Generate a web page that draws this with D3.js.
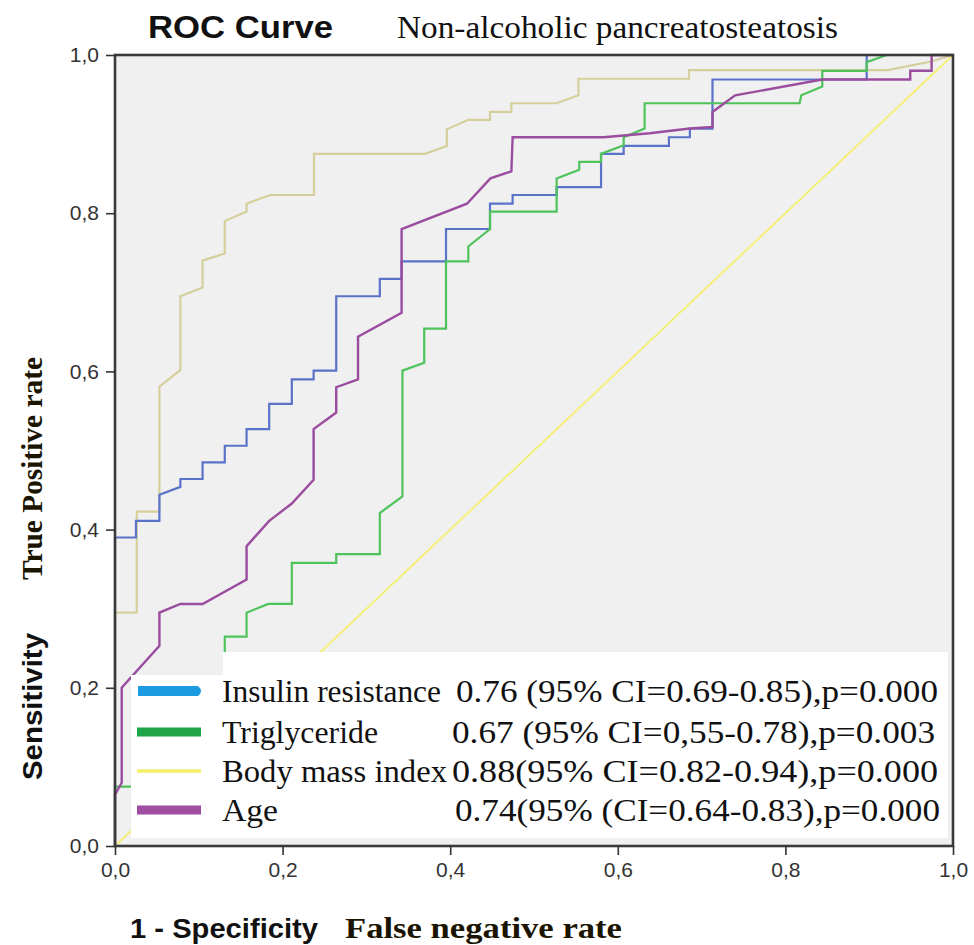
<!DOCTYPE html>
<html>
<head>
<meta charset="utf-8">
<script src="https://cdn.jsdelivr.net/npm/d3@7/dist/d3.min.js"></script>
<style>
  html, body { margin: 0; padding: 0; background: #fff; }
  svg { display: block; }
</style>
</head>
<body>
<svg id="chart" width="974" height="945"></svg>
<script>
// ---- Data (1 - specificity, sensitivity) ----
const tickValues = [0, 0.2, 0.4, 0.6, 0.8, 1.0];
const tickLabels = ["0,0", "0,2", "0,4", "0,6", "0,8", "1,0"];

const seriesNames = ["Insulin resistance", "Triglyceride", "Body mass index", "Age"];
const seriesStats = [
  "0.76 (95% CI=0.69-0.85),p=0.000",
  "0.67 (95% CI=0,55-0.78),p=0.003",
  "0.88(95% CI=0.82-0.94),p=0.000",
  "0.74(95% (CI=0.64-0.83),p=0.000"
];

const insulinResistance = [
  [0,0],[0,0.39],[0.025,0.39],[0.025,0.411],[0.053,0.411],[0.053,0.444],[0.078,0.454],
  [0.078,0.464],[0.1045,0.464],[0.1045,0.485],[0.131,0.485],[0.131,0.506],[0.157,0.506],
  [0.157,0.527],[0.184,0.527],[0.184,0.559],[0.211,0.559],[0.211,0.590],[0.237,0.590],
  [0.237,0.601],[0.264,0.601],[0.264,0.695],[0.316,0.695],[0.316,0.717],[0.342,0.717],
  [0.342,0.739],[0.395,0.739],[0.395,0.780],[0.4475,0.780],[0.4475,0.812],[0.4745,0.812],
  [0.4745,0.823],[0.527,0.823],[0.527,0.833],[0.58,0.833],[0.58,0.875],[0.607,0.875],
  [0.607,0.885],[0.661,0.885],[0.661,0.896],[0.686,0.896],[0.686,0.907],[0.713,0.907],
  [0.713,0.969],[0.897,0.969],[0.897,1.0],[1,1]
];

const triglyceride = [
  [0,0],[0,0.075],[0.03,0.075],[0.03,0.12],[0.08,0.12],[0.08,0.17],[0.131,0.19],
  [0.131,0.2646],[0.157,0.2646],[0.157,0.295],[0.183,0.306],[0.211,0.306],[0.211,0.358],
  [0.264,0.358],[0.264,0.369],[0.316,0.369],[0.316,0.421],[0.343,0.442],[0.343,0.601],
  [0.369,0.611],[0.369,0.654],[0.395,0.654],[0.395,0.739],[0.4216,0.739],[0.4216,0.758],
  [0.4475,0.780],[0.4475,0.802],[0.527,0.802],[0.527,0.844],[0.554,0.855],[0.554,0.865],
  [0.58,0.865],[0.58,0.875],[0.607,0.886],[0.607,0.896],[0.632,0.907],[0.632,0.939],
  [0.817,0.939],[0.819,0.949],[0.844,0.96],[0.844,0.98],[0.897,0.98],[0.897,0.991],
  [0.921,1.0],[1,1]
];

const bodyMassIndex = [
  [0,0],[0,0.295],[0.026,0.295],[0.026,0.4226],[0.053,0.4226],[0.053,0.5806],[0.078,0.6018],
  [0.078,0.695],[0.1045,0.706],[0.1045,0.74],[0.131,0.749],[0.131,0.79],[0.157,0.802],
  [0.157,0.812],[0.185,0.823],[0.2375,0.823],[0.2375,0.875],[0.37,0.875],[0.396,0.885],
  [0.396,0.906],[0.4216,0.918],[0.4475,0.918],[0.4475,0.928],[0.473,0.928],[0.473,0.939],
  [0.527,0.939],[0.553,0.949],[0.553,0.970],[0.685,0.970],[0.685,0.981],[0.922,0.981],
  [0.9726,0.9915],[1,1]
];

const age = [
  [0,0],[0,0.065],[0.008,0.08],[0.008,0.2],[0.053,0.253],[0.053,0.295],[0.078,0.306],
  [0.1045,0.306],[0.157,0.337],[0.157,0.379],[0.184,0.411],[0.211,0.433],[0.237,0.463],
  [0.237,0.527],[0.264,0.548],[0.264,0.58],[0.29,0.59],[0.29,0.644],[0.342,0.674],
  [0.342,0.78],[0.42,0.812],[0.448,0.844],[0.473,0.853],[0.4745,0.896],[0.583,0.896],
  [0.638,0.901],[0.686,0.907],[0.713,0.909],[0.713,0.928],[0.74,0.949],[0.844,0.969],
  [0.949,0.969],[0.949,0.98],[0.9745,0.98],[0.9745,1.0],[1,1]
];

const referenceLine = [[0,0],[1,1]];

// ---- Layout ----
const svg = d3.select("#chart");
const pL = 115, pR = 953, pT = 55, pB = 846;
const x = d3.scaleLinear().domain([0, 1]).range([pL, pR]);
const y = d3.scaleLinear().domain([0, 1]).range([pB, pT]);

// Plot background
svg.append("rect")
  .attr("x", pL).attr("y", pT)
  .attr("width", pR - pL).attr("height", pB - pT)
  .attr("fill", "#f0f0f0");

const line = d3.line().x(d => x(d[0])).y(d => y(d[1]));

const curves = [
  { data: referenceLine, color: "#f4ef78", width: 2 },
  { data: bodyMassIndex, color: "#d5cf9c", width: 2.2 },
  { data: insulinResistance, color: "#5a72c8", width: 2.2 },
  { data: triglyceride, color: "#4ec35c", width: 2.2 },
  { data: age, color: "#9a4c9f", width: 2.4 }
];

const plot = svg.append("g");
curves.forEach(c => {
  plot.append("path")
    .datum(c.data)
    .attr("d", line)
    .attr("fill", "none")
    .attr("stroke", c.color)
    .attr("stroke-width", c.width)
    .attr("stroke-linejoin", "miter");
});

// Legend (two overlapping white boxes, as in the reference)
const legend = svg.append("g");
legend.append("rect").attr("x", 223).attr("y", 652).attr("width", 948 - 223).attr("height", 838 - 652).attr("fill", "#fff");
legend.append("rect").attr("x", 131).attr("y", 675).attr("width", 948 - 131).attr("height", 838 - 675).attr("fill", "#fff");

const swatchColors = ["#1b9ce2", "#1fa447", "#f5f06a", "#a04ea2"];
const swatchWidths = [10, 9, 3.5, 9];
const rowY = [691, 732, 771, 810];
const labelLen = [219, 156, 225, 56];
const statX = [456, 452, 452, 455];
const statLen = [482, 483, 486, 485];

seriesNames.forEach((name, i) => {
  const ys = rowY[i];
  if (i === 0) {
    legend.append("path")
      .attr("d", `M138,${ys - 5} L198,${ys - 5} Q204,${ys} 198,${ys + 5} L138,${ys + 5} Z`)
      .attr("fill", swatchColors[i]);
  } else {
    legend.append("rect")
      .attr("x", 137).attr("y", ys - swatchWidths[i] / 2)
      .attr("width", 64).attr("height", swatchWidths[i])
      .attr("fill", swatchColors[i]);
  }
  legend.append("text")
    .attr("x", 222).attr("y", ys + 11)
    .attr("font-family", "Liberation Serif, Times New Roman, serif")
    .attr("font-size", 31)
    .attr("fill", "#111")
    .attr("textLength", labelLen[i])
    .attr("lengthAdjust", "spacingAndGlyphs")
    .text(name);
  legend.append("text")
    .attr("x", statX[i]).attr("y", ys + 11)
    .attr("font-family", "Liberation Serif, Times New Roman, serif")
    .attr("font-size", 31)
    .attr("fill", "#111")
    .attr("textLength", statLen[i])
    .attr("lengthAdjust", "spacingAndGlyphs")
    .text(seriesStats[i]);
});

// Frame
svg.append("rect")
  .attr("x", pL).attr("y", pT)
  .attr("width", pR - pL).attr("height", pB - pT)
  .attr("fill", "none")
  .attr("stroke", "#3a3a3a")
  .attr("stroke-width", 2.6);

// Axes
const yAxis = d3.axisLeft(y).tickValues(tickValues).tickFormat((d, i) => tickLabels[i]).tickSize(9).tickPadding(7);
const xAxis = d3.axisBottom(x).tickValues(tickValues).tickFormat((d, i) => tickLabels[i]).tickSize(9).tickPadding(7);

const gy = svg.append("g").attr("transform", `translate(${pL},0)`).call(yAxis);
const gx = svg.append("g").attr("transform", `translate(0,${pB})`).call(xAxis);
[gx, gy].forEach(g => {
  g.attr("font-size", 21).attr("font-family", "Liberation Sans, Arial, sans-serif");
  g.select(".domain").remove();
  g.selectAll(".tick line").attr("stroke", "#333").attr("stroke-width", 1.6);
  g.selectAll(".tick text")
    .style("font-family", "Liberation Sans, Arial, sans-serif")
    .style("font-size", "21px")
    .attr("fill", "#333");
});

// Titles
svg.append("text")
  .attr("x", 148).attr("y", 38)
  .attr("font-family", "Liberation Sans, Arial, sans-serif")
  .attr("font-weight", "bold").attr("font-size", 31)
  .attr("fill", "#111")
  .attr("textLength", 185).attr("lengthAdjust", "spacingAndGlyphs")
  .text("ROC Curve");
svg.append("text")
  .attr("x", 397).attr("y", 38)
  .attr("font-family", "Liberation Serif, Times New Roman, serif")
  .attr("font-size", 31)
  .attr("fill", "#111")
  .attr("textLength", 441).attr("lengthAdjust", "spacingAndGlyphs")
  .text("Non-alcoholic pancreatosteatosis");

// Axis titles
svg.append("text")
  .attr("x", 130).attr("y", 938)
  .attr("font-family", "Liberation Sans, Arial, sans-serif")
  .attr("font-weight", "bold").attr("font-size", 28)
  .attr("fill", "#111")
  .attr("textLength", 188).attr("lengthAdjust", "spacingAndGlyphs")
  .text("1 - Specificity");
svg.append("text")
  .attr("x", 345).attr("y", 938)
  .attr("font-family", "Liberation Serif, Times New Roman, serif")
  .attr("font-weight", "bold").attr("font-size", 29)
  .attr("fill", "#1a1400")
  .attr("textLength", 277).attr("lengthAdjust", "spacingAndGlyphs")
  .text("False negative rate");

svg.append("text")
  .attr("transform", "translate(42,780) rotate(-90)")
  .attr("font-family", "Liberation Sans, Arial, sans-serif")
  .attr("font-weight", "bold").attr("font-size", 28)
  .attr("fill", "#111")
  .attr("textLength", 147).attr("lengthAdjust", "spacingAndGlyphs")
  .text("Sensitivity");
svg.append("text")
  .attr("transform", "translate(42,580) rotate(-90)")
  .attr("font-family", "Liberation Serif, Times New Roman, serif")
  .attr("font-weight", "bold").attr("font-size", 29)
  .attr("fill", "#1a1400")
  .attr("textLength", 223).attr("lengthAdjust", "spacingAndGlyphs")
  .text("True Positive rate");
</script>
</body>
</html>
